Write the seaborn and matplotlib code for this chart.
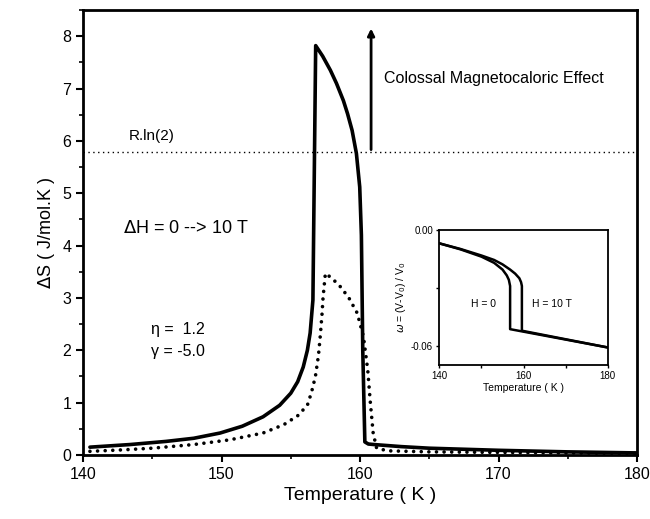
import matplotlib
matplotlib.use("Agg")
import matplotlib.pyplot as plt
from matplotlib.ticker import MultipleLocator
import seaborn as sns
import pandas as pd

# main panel: entropy change for 0 -> 10 T
t_solid = [140.5, 143.4, 146, 148, 149.9, 151.5, 153.0, 154.2, 155.0, 155.5, 155.9, 156.2,
           156.4, 156.6, 156.8, 157.3, 157.86, 158.3, 158.8, 159.1, 159.43, 159.74, 159.98,
           160.1, 160.2, 160.35, 160.6, 161, 163, 165, 170, 175, 180]
ds_solid = [0.15, 0.2, 0.26, 0.32, 0.42, 0.55, 0.73, 0.95, 1.18, 1.4, 1.68, 2.0,
            2.33, 2.96, 7.82, 7.62, 7.35, 7.1, 6.77, 6.52, 6.2, 5.76, 5.12,
            4.2, 2.0, 0.25, 0.21, 0.2, 0.16, 0.13, 0.09, 0.06, 0.04]

t_dot = [140.5, 143, 145, 148, 150.6, 153.0, 154.5, 155.5, 156.2, 156.5, 156.78, 157.0,
         157.14, 157.26, 157.33, 157.5, 158.0, 158.6, 159.2, 159.8, 160.25, 160.56, 160.75,
         160.95, 161.2, 162, 165, 170, 175, 180]
ds_dot = [0.07, 0.1, 0.13, 0.2, 0.29, 0.42, 0.58, 0.75, 0.95, 1.2, 1.5, 1.9,
          2.3, 2.7, 3.0, 3.47, 3.37, 3.21, 3.0, 2.71, 2.26, 1.62, 0.99,
          0.42, 0.13, 0.08, 0.06, 0.05, 0.04, 0.03]

r_ln2 = 5.78

# inset: volume strain omega = (V-V0)/V0
t_h0 = [140, 145, 150, 153, 155, 156, 156.5, 156.8, 156.8, 180]
w_h0 = [-0.0069, -0.0100, -0.0138, -0.0170, -0.0205, -0.0235, -0.0258, -0.0290, -0.0514, -0.0609]
t_h10 = [140, 145, 150, 153, 155, 156.8, 158, 159, 159.4, 159.6, 159.6, 180]
w_h10 = [-0.0069, -0.0098, -0.0132, -0.0155, -0.0178, -0.0205, -0.0226, -0.0250, -0.0270, -0.0290, -0.0522, -0.0609]

sns.set_style("ticks")
plt.rcParams['font.family'] = ['Liberation Sans', 'DejaVu Sans']
plt.rcParams['mathtext.fontset'] = 'dejavusans'
for k in ['text.color', 'axes.labelcolor', 'xtick.color', 'ytick.color', 'axes.edgecolor']:
    plt.rcParams[k] = 'black'

fig = plt.figure(figsize=(6.5, 5.19), dpi=100)
ax = fig.add_axes([0.1277, 0.1233, 0.8523, 0.8574])

df_s = pd.DataFrame({'T': t_solid, 'dS': ds_solid})
df_d = pd.DataFrame({'T': t_dot, 'dS': ds_dot})
sns.lineplot(data=df_s, x='T', y='dS', ax=ax, color='black', lw=2.6, sort=False,
             estimator=None)
sns.lineplot(data=df_d, x='T', y='dS', ax=ax, color='black', lw=2.6, sort=False,
             estimator=None, linestyle=(0, (0.01, 2.1)), dash_capstyle='round')
ax.axhline(r_ln2, color='black', lw=1.0, linestyle=(0, (1, 2.5)))

ax.annotate('', xy=(160.8, 8.2), xytext=(160.8, r_ln2),
            arrowprops=dict(arrowstyle='-|>', color='black', lw=2, mutation_scale=10))

ax.text(143.3, 6.02, 'R.ln(2)', fontsize=11)
ax.text(161.7, 7.2, 'Colossal Magnetocaloric Effect', fontsize=11.5, va='center')
ax.text(142.9, 4.33, r'$\Delta$H = 0 --> 10 T', fontsize=13, va='center')
ax.text(144.9, 2.39, u'\u03b7 =  1.2', fontsize=11.5, va='center')
ax.text(144.9, 1.97, u'\u03b3 = -5.0', fontsize=11.5, va='center')

ax.set_xlim(140, 180)
ax.set_ylim(0, 8.5)
ax.xaxis.set_major_locator(MultipleLocator(10))
ax.xaxis.set_minor_locator(MultipleLocator(5))
ax.yaxis.set_major_locator(MultipleLocator(1))
ax.yaxis.set_minor_locator(MultipleLocator(0.5))
ax.tick_params(which='major', direction='out', length=5, width=1.5, labelsize=11.5)
ax.tick_params(which='minor', direction='out', length=3, width=1.2)
ax.set_xlabel('Temperature ( K )', fontsize=14)
ax.set_ylabel(r'$\Delta$S ( J/mol.K )', fontsize=13)
for s in ax.spines.values():
    s.set_linewidth(2)

# inset
ins = fig.add_axes([0.676, 0.2967, 0.259, 0.26])
sns.lineplot(x=t_h0, y=w_h0, ax=ins, color='black', lw=1.8, sort=False, estimator=None)
sns.lineplot(x=t_h10, y=w_h10, ax=ins, color='black', lw=1.8, sort=False, estimator=None)
ins.set_xlim(140, 180)
ins.set_ylim(-0.07, 0)
ins.xaxis.set_major_locator(MultipleLocator(20))
ins.xaxis.set_minor_locator(MultipleLocator(10))
ins.yaxis.set_major_locator(MultipleLocator(0.06))
ins.yaxis.set_minor_locator(MultipleLocator(0.03))
ins.yaxis.set_major_formatter(lambda v, p: '%.2f' % v)
ins.tick_params(which='both', direction='out', length=2.5, width=1, labelsize=7, pad=2)
ins.text(147.5, -0.0385, 'H = 0', fontsize=7.5, va='center')
ins.text(162, -0.0385, 'H = 10 T', fontsize=7.5, va='center')
ins.set_xlabel('Temperature ( K )', fontsize=7.5, labelpad=1)
ins.set_ylabel(r'$\omega$ = (V-V$_0$) / V$_0$', fontsize=7.5, labelpad=2)
for s in ins.spines.values():
    s.set_linewidth(1.3)

fig.savefig('out.png', dpi=100)
